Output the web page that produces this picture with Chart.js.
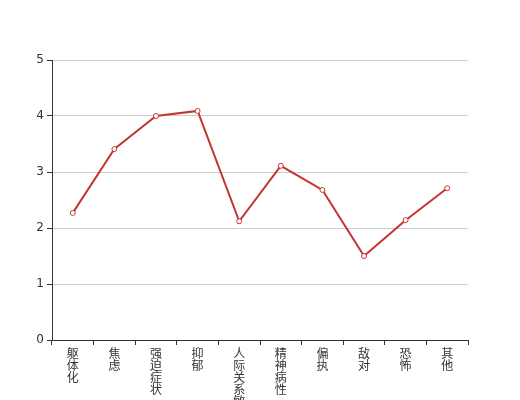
<!DOCTYPE html>
<html lang="zh">
<head>
    <meta charset="UTF-8">
    <title>SCL-90</title>
    <script src="https://cdn.jsdelivr.net/npm/chart.js@4/dist/chart.umd.min.js"></script>
    <style>
        body { margin: 0; background: #fff; }
    </style>
</head>
<body>
    <canvas id="chart" width="520" height="400"></canvas>
    <script>
    const factors = ['躯体化', '焦虑', '强迫症状', '抑郁', '人际关系敏感', '精神病性', '偏执', '敌对', '恐怖', '其他'];
    const scores = [2.27, 3.41, 4.0, 4.09, 2.12, 3.11, 2.68, 1.5, 2.14, 2.71];
    const yTicks = [0, 1, 2, 3, 4, 5];

    // vertical text: one character per line
    const labels = factors.map(f => f.split(''));

    const ctx = document.getElementById('chart').getContext('2d');
    new Chart(ctx, {
        type: 'line',
        data: {
            labels: labels,
            datasets: [{
                data: scores,
                borderColor: '#c23531',
                borderWidth: 2,
                backgroundColor: '#fff',
                pointRadius: 2.5,
                pointBorderWidth: 1,
                pointBackgroundColor: '#fff',
                pointBorderColor: '#c23531',
                tension: 0
            }]
        },
        options: {
            responsive: false,
            animation: false,
            layout: { padding: { top: 60, right: 52, left: 0, bottom: 0 } },
            plugins: { legend: { display: false }, tooltip: { enabled: false } },
            scales: {
                x: {
                    offset: true,
                    grid: {
                        offset: true,
                        drawOnChartArea: false,
                        tickLength: 5,
                        tickColor: '#333'
                    },
                    border: { color: '#333' },
                    ticks: {
                        maxRotation: 0,
                        autoSkip: false,
                        padding: 2,
                        color: '#333',
                        font: { family: '"Noto Sans CJK SC", sans-serif', size: 12, lineHeight: 1.0 }
                    },
                    afterFit: s => { s.height = 60; }
                },
                y: {
                    min: 0,
                    max: 5,
                    afterBuildTicks: s => { s.ticks = yTicks.map(v => ({ value: v })); },
                    grid: { color: '#ccc', tickLength: 5, tickColor: '#333' },
                    border: { color: '#333' },
                    ticks: {
                        padding: 3,
                        color: '#333',
                        font: { family: '"DejaVu Sans", sans-serif', size: 12 }
                    },
                    afterFit: s => { s.width = 52; }
                }
            }
        }
    });
    </script>
</body>
</html>
